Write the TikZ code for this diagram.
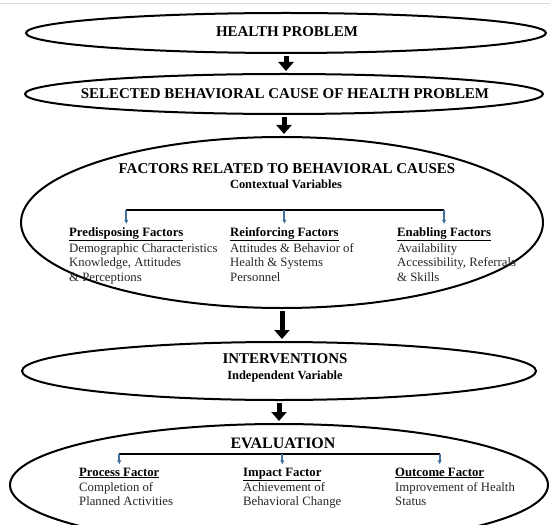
\documentclass[tikz,border=0pt]{standalone}
\usepackage{fontspec}
\setmainfont{Liberation Serif}
\usetikzlibrary{shapes.geometric,arrows.meta,positioning}
\definecolor{dropblue}{HTML}{41719C}

\begin{document}
\begin{tikzpicture}[x=1bp, y=-1bp,
        oval/.style={ellipse, draw, line width=2bp, inner sep=0pt},
        bigarrow/.style={-{Triangle[width=15bp,length=9bp]}, line width=5bp, shorten <=2bp, shorten >=2bp},
        title/.style={font=\fontsize{15}{18}\selectfont\bfseries, anchor=base},
        subtitle/.style={font=\fontsize{12.5}{15}\selectfont\bfseries, anchor=base},
        head/.style={font=\fontsize{12.8}{14.7}\selectfont\bfseries, anchor=base west, inner sep=0pt},
        body/.style={font=\fontsize{12.8}{14.7}\selectfont, align=left, anchor=north west, inner sep=0pt, text=black!85},
        drop/.style={-{Latex[length=4bp,width=4.5bp]}, dropblue, line width=2bp},
        bar/.style={line width=1.8bp}]
        \clip (0,0) rectangle (550,525);
        \draw[black!15] (0,3) -- (550,3);

        \node[oval, minimum width=520bp, minimum height=40bp] (health) at (286,33) {};
        \node[oval, minimum width=518bp, minimum height=40bp] (cause) at (284,94) {};
        \node[oval, minimum width=522bp, minimum height=171bp] (factors) at (282,222.5) {};
        \node[oval, minimum width=514bp, minimum height=58bp] (interv) at (279,371) {};
        \node[oval, minimum width=538bp, minimum height=122bp] (eval) at (279,485) {};

        \node[title] (healthtitle) at (287,37) {HEALTH PROBLEM};
        \node[title] (causetitle) at (285,99) {SELECTED BEHAVIORAL CAUSE OF HEALTH PROBLEM};

        % factors
        \node[title] (factitle) at (287,174) {FACTORS RELATED TO BEHAVIORAL CAUSES};
        \node[subtitle] (facsub) at (286,188.5) {Contextual Variables};
        \node[head] (predis) at (69,236) {\underline{Predisposing Factors}};
        \node[body] (predisb) at (69,243) {Demographic Characteristics\\Knowledge, Attitudes\\\& Perceptions};
        \node[head] (reinf) at (230,236) {\underline{Reinforcing Factors}};
        \node[body] (reinfb) at (230,243) {Attitudes \& Behavior of\\Health \& Systems\\Personnel};
        \node[head] (enabl) at (397,236) {\underline{Enabling Factors}};
        \node[body] (enablb) at (397,243) {Availability\\Accessibility, Referrals\\\& Skills};

        % interventions
        \node[title] (intitle) at (285,363) {INTERVENTIONS};
        \node[subtitle] (insub) at (285,379.5) {Independent Variable};

        % evaluation
        \node[title, font=\fontsize{16}{18}\selectfont\bfseries] (evtitle) at (283,448) {EVALUATION};
        \node[head] (process) at (79,476) {\underline{Process Factor}};
        \node[body] (processb) at (79,482) {Completion of\\Planned Activities};
        \node[head] (impact) at (243,476) {\underline{Impact Factor}};
        \node[body] (impactb) at (243,482) {Achievement of\\Behavioral Change};
        \node[head] (outcome) at (395,476) {\underline{Outcome Factor}};
        \node[body] (outcomeb) at (395,482) {Improvement of Health\\Status};

        \coordinate (facbar) at (0,210);
        \coordinate (evbar) at (0,454);
        \draw[bar] (predis.north |- facbar) -- (enabl.north |- facbar);
        \draw[bar] (process.north |- evbar) -- (outcome.north |- evbar);
        \foreach \n in {predis, reinf, enabl}
            \draw[drop] (\n.north |- facbar) -- ([yshift=3bp]\n.north);
        \foreach \n in {process, impact, outcome}
            \draw[drop] (\n.north |- evbar) -- ([yshift=3bp]\n.north);

        \draw[bigarrow] (health.south) -- (health.south |- cause.north);
        \draw[bigarrow] (cause.south) -- (cause.south |- factors.north);
        \draw[bigarrow] (factors.south) -- (factors.south |- interv.north);
        \draw[bigarrow] (interv.south) -- (interv.south |- eval.north);
    \end{tikzpicture}
\end{document}
